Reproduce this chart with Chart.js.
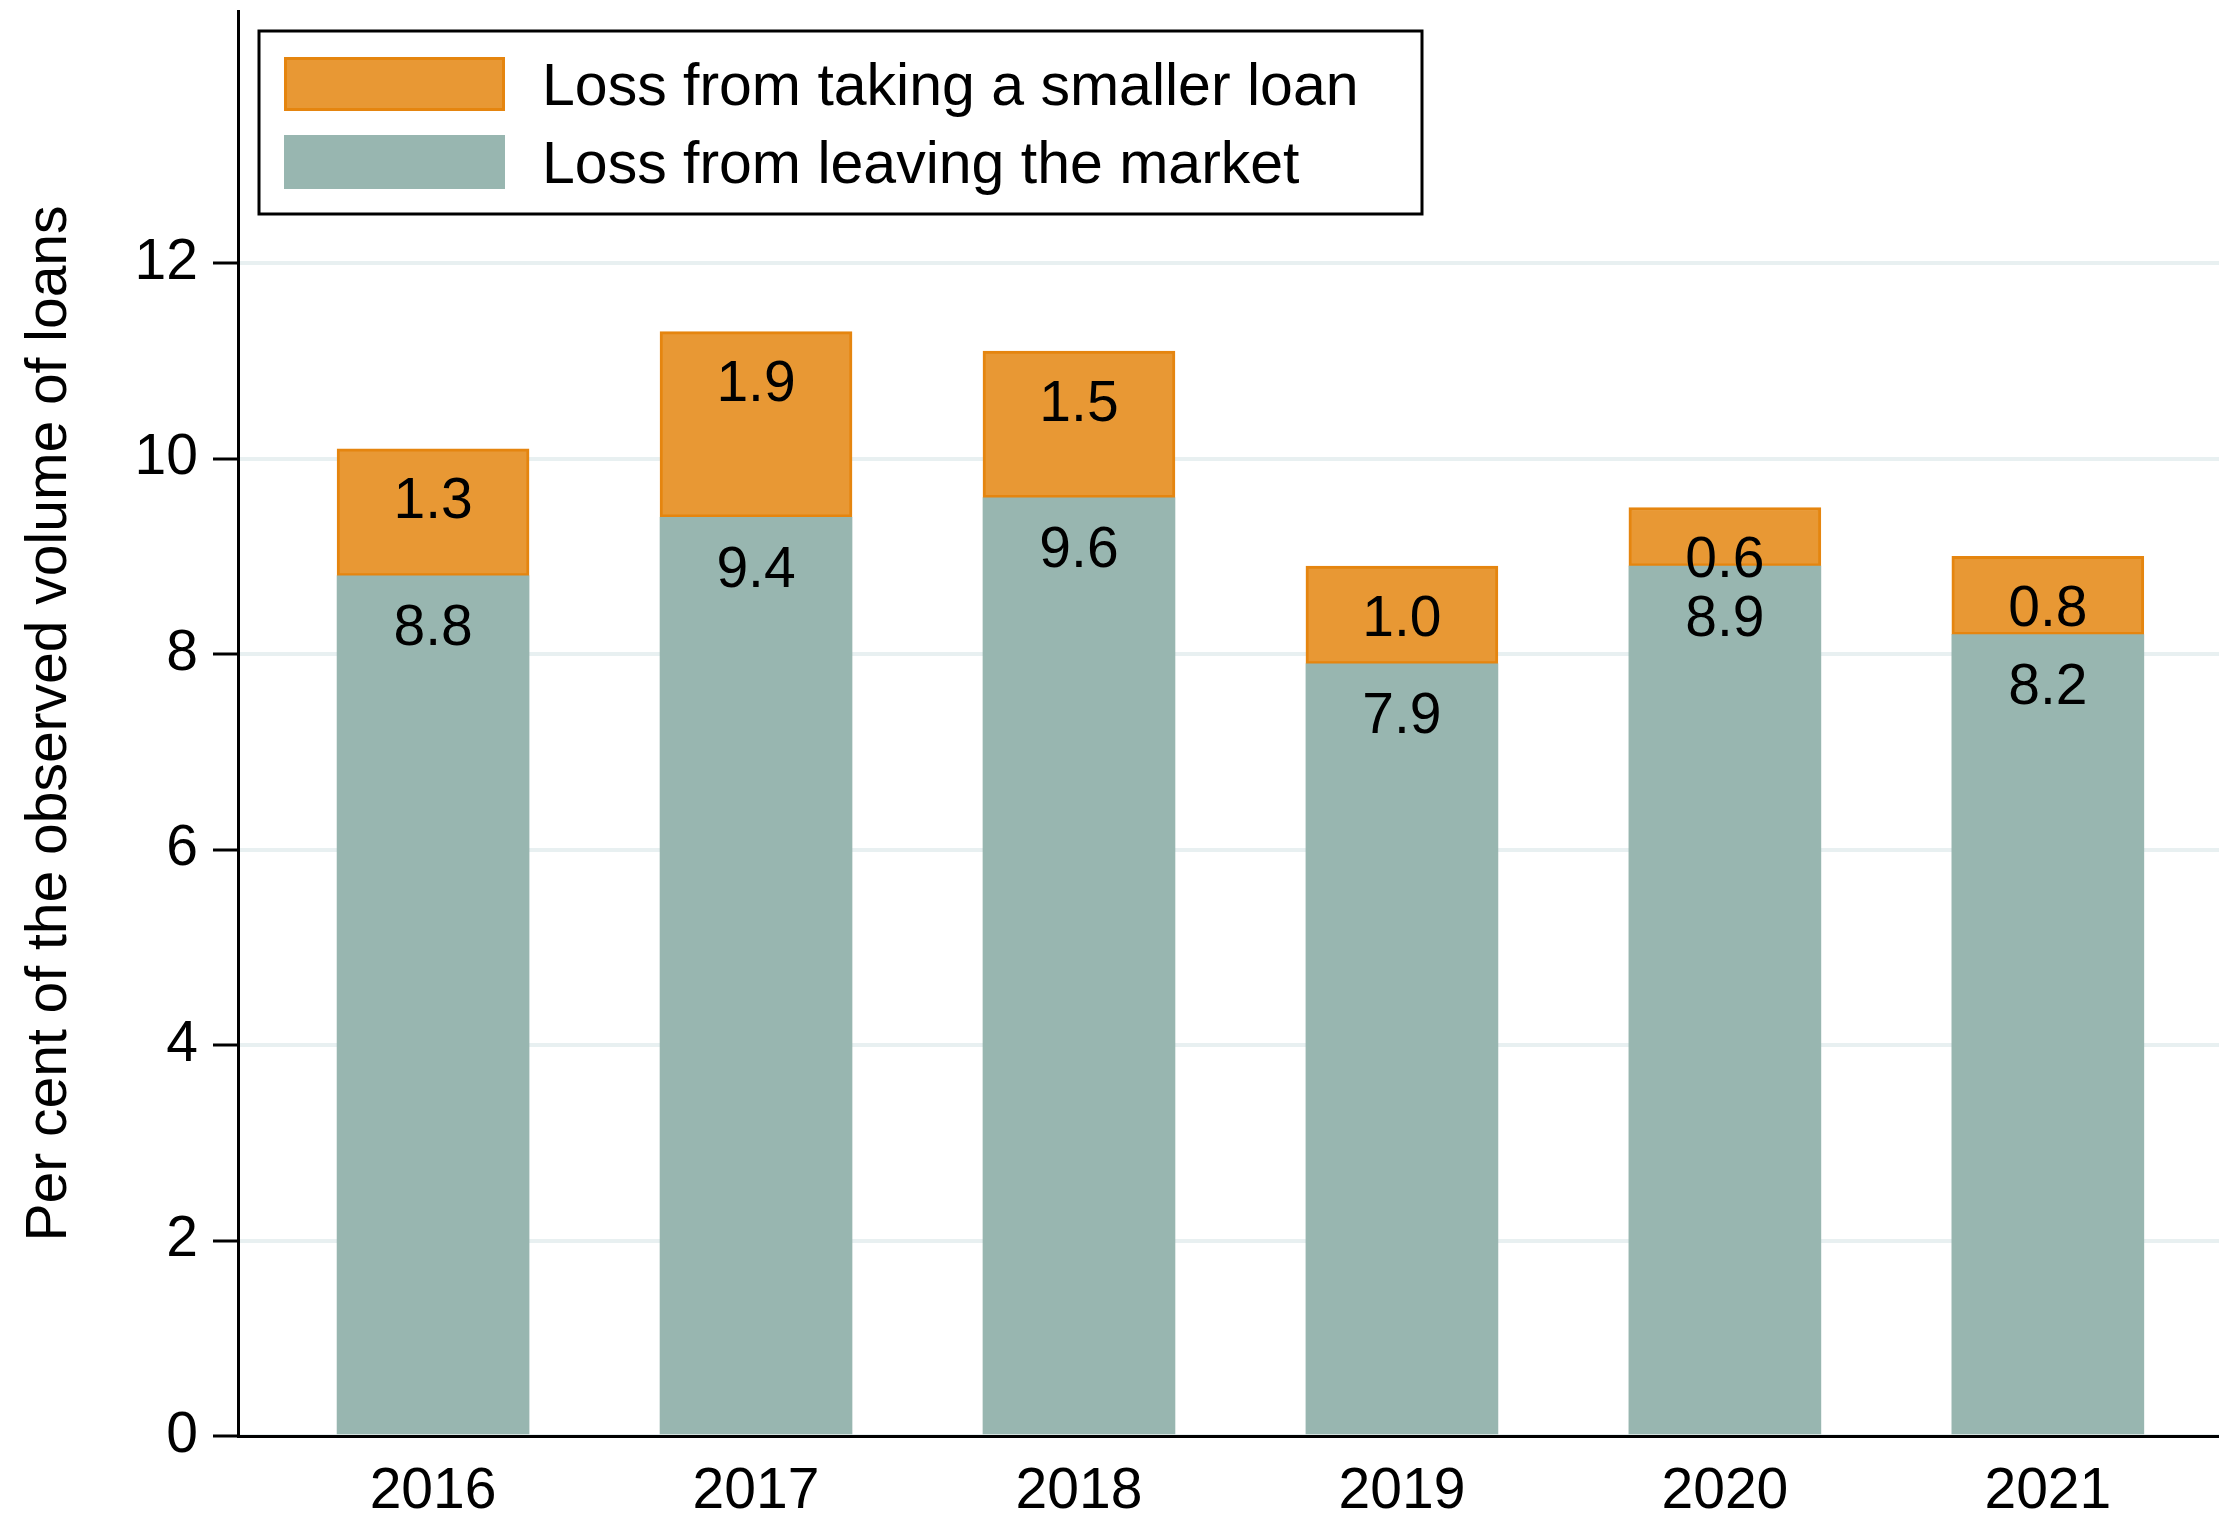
<!DOCTYPE html>
<html>
<head>
<meta charset="utf-8">
<title>Loss in loan volume</title>
<script src="https://cdn.jsdelivr.net/npm/chart.js@4.4.1/dist/chart.umd.min.js"></script>
<style>
  html, body { margin: 0; padding: 0; background: #fff; }
  canvas { display: block; }
</style>
</head>
<body>
<canvas id="lossChart" width="2219" height="1513"></canvas>
<script>
const years = ['2016', '2017', '2018', '2019', '2020', '2021'];
const leavingMarket = [8.8, 9.4, 9.6, 7.9, 8.9, 8.2];
const smallerLoan = [1.3, 1.9, 1.5, 1.0, 0.6, 0.8];
const yTicks = [0, 2, 4, 6, 8, 10, 12];

const GREEN = '#98B6B0';
const ORANGE = '#E89834';
const ORANGE_EDGE = '#E5850F';
const FONT = '"Liberation Sans", Arial, Helvetica, sans-serif';
const FONT_SIZE = 57;
const LEGEND_SIZE = 59;
const font = { family: FONT, size: FONT_SIZE };

// value labels, centred half a unit below the top of each segment
const valueLabels = {
    id: 'valueLabels',
    afterDatasetsDraw(chart) {
        const ctx = chart.ctx;
        const yScale = chart.scales.y;
        const stackTop = years.map(() => 0);
        ctx.save();
        ctx.font = `${FONT_SIZE}px ${FONT}`;
        ctx.fillStyle = '#000';
        ctx.textAlign = 'center';
        ctx.textBaseline = 'alphabetic';
        chart.data.datasets.forEach((ds, i) => {
            chart.getDatasetMeta(i).data.forEach((bar, j) => {
                const v = ds.data[j].y;
                stackTop[j] += v;
                const y = yScale.getPixelForValue(stackTop[j] - 0.5) + FONT_SIZE * 0.36;
                ctx.fillText(v.toFixed(1), bar.x, y);
            });
        });
        ctx.restore();
    }
};

// boxed legend in the top-left corner of the plot
const boxLegend = {
    id: 'boxLegend',
    afterDraw(chart) {
        const { ctx, chartArea } = chart;
        const left = chartArea.left + 21;
        const top = chartArea.top + 20;
        ctx.save();
        ctx.fillStyle = '#fff';
        ctx.fillRect(left, top, 1163, 183);
        ctx.lineWidth = 3;
        ctx.strokeStyle = '#000';
        ctx.strokeRect(left, top, 1163, 183);

        const items = chart.data.datasets.slice().reverse();
        ctx.font = `${LEGEND_SIZE}px ${FONT}`;
        ctx.textAlign = 'left';
        ctx.textBaseline = 'alphabetic';
        items.forEach((ds, k) => {
            const sy = top + 26 + k * 78;
            ctx.fillStyle = ds.backgroundColor;
            ctx.fillRect(left + 25, sy, 221, 54);
            if (ds.borderWidth) {
                ctx.strokeStyle = ds.borderColor;
                ctx.lineWidth = 3;
                ctx.strokeRect(left + 26.5, sy + 1.5, 218, 51);
            }
            ctx.fillStyle = '#000';
            ctx.fillText(ds.label, left + 283, sy + 27 + LEGEND_SIZE * 0.36);
        });
        ctx.restore();
    }
};

new Chart(document.getElementById('lossChart').getContext('2d'), {
    type: 'bar',
    data: {
        datasets: [
            {
                label: 'Loss from leaving the market',
                data: leavingMarket.map((v, i) => ({ x: i, y: v })),
                backgroundColor: GREEN,
                borderWidth: 0
            },
            {
                label: 'Loss from taking a smaller loan',
                data: smallerLoan.map((v, i) => ({ x: i, y: v })),
                backgroundColor: ORANGE,
                borderColor: ORANGE_EDGE,
                borderWidth: 3,
                borderSkipped: false
            }
        ]
    },
    options: {
        responsive: false,
        animation: false,
        devicePixelRatio: 1,
        layout: { padding: { top: 11, right: 0, bottom: 0, left: 0 } },
        datasets: { bar: { barThickness: 192 } },
        plugins: { legend: { display: false }, tooltip: { enabled: false } },
        scales: {
            x: {
                type: 'linear',
                min: -0.604,
                max: 5.53,
                stacked: true,
                offset: false,
                afterBuildTicks: s => { s.ticks = years.map((_, i) => ({ value: i })); },
                afterFit: s => { s.height = 77; s.paddingLeft = 0; s.paddingRight = 0; },
                ticks: {
                    callback: v => years[v],
                    font: font,
                    color: '#000',
                    padding: 22,
                    maxRotation: 0,
                    autoSkip: false
                },
                grid: { display: false, drawTicks: false, offset: false },
                border: { display: true, color: '#000', width: 3 }
            },
            y: {
                min: 0,
                max: 14.58,
                stacked: true,
                afterBuildTicks: s => { s.ticks = yTicks.map(v => ({ value: v })); },
                afterFit: s => { s.width = 238; s.paddingTop = 0; s.paddingBottom = 0; },
                ticks: { font: font, color: '#000', padding: 15 },
                grid: { color: '#E8F0F1', lineWidth: 4, tickColor: '#000', tickWidth: 3, tickLength: 25 },
                border: { display: true, color: '#000', width: 3 },
                title: {
                    display: true,
                    text: 'Per cent of the observed volume of loans',
                    font: font,
                    color: '#000',
                    padding: { top: 16, bottom: 0 }
                }
            }
        }
    },
    plugins: [valueLabels, boxLegend]
});
</script>
</body>
</html>
